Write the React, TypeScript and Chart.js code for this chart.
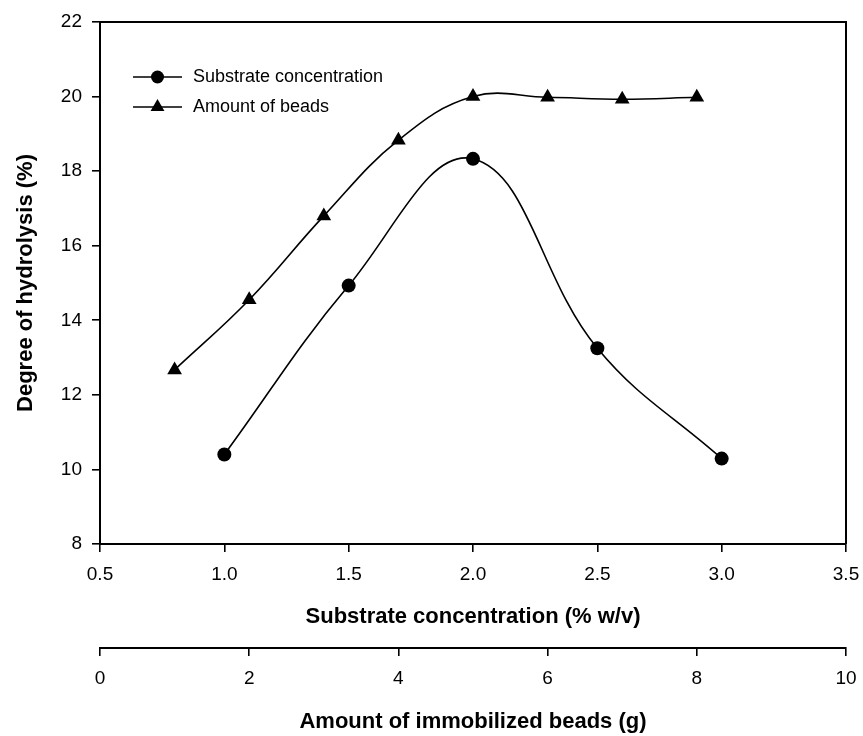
import React, { useEffect, useRef } from "react";
import { Chart, registerables } from "chart.js";

Chart.register(...registerables);

// Data
const substrateX = [1.0, 1.5, 2.0, 2.5, 3.0];
const substrateY = [10.4, 14.93, 18.33, 13.25, 10.29];
const beadsX = [1, 2, 3, 4, 5, 6, 7, 8];
const beadsY = [12.67, 14.55, 16.8, 18.83, 20.0, 19.98, 19.93, 19.98];

const seriesLabels = ["Substrate concentration", "Amount of beads"];
const xTitle = "Substrate concentration (% w/v)";
const x2Title = "Amount of immobilized beads (g)";
const yTitle = "Degree of hydrolysis (%)";

const FONT = "'Liberation Sans', Arial, sans-serif";

const frameAndLegend = {
  id: "frameAndLegend",
  afterDraw(chart: any) {
    const { ctx, chartArea } = chart;
    ctx.save();
    // top and right frame lines
    ctx.strokeStyle = "#000";
    ctx.lineWidth = 2;
    ctx.beginPath();
    ctx.moveTo(chartArea.left, chartArea.top);
    ctx.lineTo(chartArea.right, chartArea.top);
    ctx.lineTo(chartArea.right, chartArea.bottom);
    ctx.stroke();

    // legend
    const x0 = chartArea.left + 33;
    const x1 = chartArea.left + 82;
    const xm = (x0 + x1) / 2;
    chart.data.datasets.forEach((ds: any, i: number) => {
      const y = chartArea.top + 55 + i * 30;
      ctx.strokeStyle = "#000";
      ctx.lineWidth = 1.5;
      ctx.beginPath();
      ctx.moveTo(x0, y);
      ctx.lineTo(x1, y);
      ctx.stroke();
      ctx.fillStyle = "#000";
      ctx.beginPath();
      if (ds.pointStyle === "triangle") {
        const r = 8;
        ctx.moveTo(xm, y - r);
        ctx.lineTo(xm + r * Math.sin((2 * Math.PI) / 3), y + r / 2);
        ctx.lineTo(xm - r * Math.sin((2 * Math.PI) / 3), y + r / 2);
        ctx.closePath();
      } else {
        ctx.arc(xm, y, 6.5, 0, Math.PI * 2);
      }
      ctx.fill();
      ctx.font = `18px ${FONT}`;
      ctx.textBaseline = "middle";
      ctx.textAlign = "left";
      ctx.fillText(ds.label, x1 + 11, y);
    });
    ctx.restore();
  },
};

const zeroPad = (scale: any) => {
  scale.paddingLeft = 0;
  scale.paddingRight = 0;
  scale.paddingTop = 0;
  scale.paddingBottom = 0;
};

export default function App() {
  const ref = useRef<HTMLCanvasElement>(null);

  useEffect(() => {
    if (!ref.current) return;
    const chart = new Chart(ref.current, {
      type: "line",
      data: {
        datasets: [
          {
            label: seriesLabels[0],
            data: substrateX.map((x, i) => ({ x, y: substrateY[i] })),
            xAxisID: "x",
            yAxisID: "y",
            borderColor: "#000",
            backgroundColor: "#000",
            borderWidth: 1.6,
            pointStyle: "circle",
            pointRadius: 7,
            pointBackgroundColor: "#000",
            pointBorderWidth: 0,
            tension: 0.4,
          },
          {
            label: seriesLabels[1],
            data: beadsX.map((x, i) => ({ x, y: beadsY[i] })),
            xAxisID: "x2",
            yAxisID: "y",
            borderColor: "#000",
            backgroundColor: "#000",
            borderWidth: 1.6,
            pointStyle: "triangle",
            pointRadius: 8.5,
            pointBackgroundColor: "#000",
            pointBorderWidth: 0,
            tension: 0.4,
          },
        ],
      },
      options: {
        responsive: false,
        animation: false,
        layout: { padding: { top: 22, right: 17, left: 0, bottom: 0 } },
        plugins: { legend: { display: false }, tooltip: { enabled: false } },
        scales: {
          y: {
            type: "linear",
            position: "left",
            min: 8,
            max: 22,
            ticks: {
              stepSize: 2,
              color: "#000",
              font: { family: FONT, size: 19 },
              padding: 10,
            },
            grid: {
              drawOnChartArea: false,
              drawTicks: true,
              tickLength: 8,
              color: "#000",
              lineWidth: 1.6,
            },
            border: { display: true, color: "#000", width: 2 },
            title: {
              display: true,
              text: yTitle,
              color: "#000",
              font: { family: FONT, size: 22, weight: "bold" },
              padding: { top: 13, bottom: 0 },
            },
            afterFit(scale: any) {
              scale.width = 100;
              zeroPad(scale);
            },
          },
          x: {
            type: "linear",
            position: "bottom",
            weight: 0,
            min: 0.5,
            max: 3.5,
            ticks: {
              stepSize: 0.5,
              color: "#000",
              font: { family: FONT, size: 19 },
              padding: 11,
              maxRotation: 0,
              callback: (v: any) => Number(v).toFixed(1),
            },
            grid: {
              drawOnChartArea: false,
              drawTicks: true,
              tickLength: 8,
              color: "#000",
              lineWidth: 1.6,
            },
            border: { display: true, color: "#000", width: 2 },
            title: {
              display: true,
              text: xTitle,
              color: "#000",
              font: { family: FONT, size: 22, weight: "bold" },
              padding: { top: 0, bottom: 18 },
            },
            afterFit(scale: any) {
              scale.height = 104;
              zeroPad(scale);
            },
          },
          x2: {
            type: "linear",
            position: "bottom",
            weight: 1,
            min: 0,
            max: 10,
            ticks: {
              stepSize: 2,
              color: "#000",
              font: { family: FONT, size: 19 },
              padding: 11,
              maxRotation: 0,
            },
            grid: {
              drawOnChartArea: false,
              drawTicks: true,
              tickLength: 8,
              color: "#000",
              lineWidth: 1.6,
            },
            border: { display: true, color: "#000", width: 2 },
            title: {
              display: true,
              text: x2Title,
              color: "#000",
              font: { family: FONT, size: 22, weight: "bold" },
              padding: { top: 0, bottom: 1 },
            },
            afterFit(scale: any) {
              scale.height = 88;
              zeroPad(scale);
            },
          },
        },
      },
      plugins: [frameAndLegend],
    });
    return () => chart.destroy();
  }, []);

  return (
    <div style={{ position: "absolute", left: 0, top: 0, width: 863, height: 736, background: "#fff" }}>
      <canvas ref={ref} width={863} height={736} />
    </div>
  );
}
